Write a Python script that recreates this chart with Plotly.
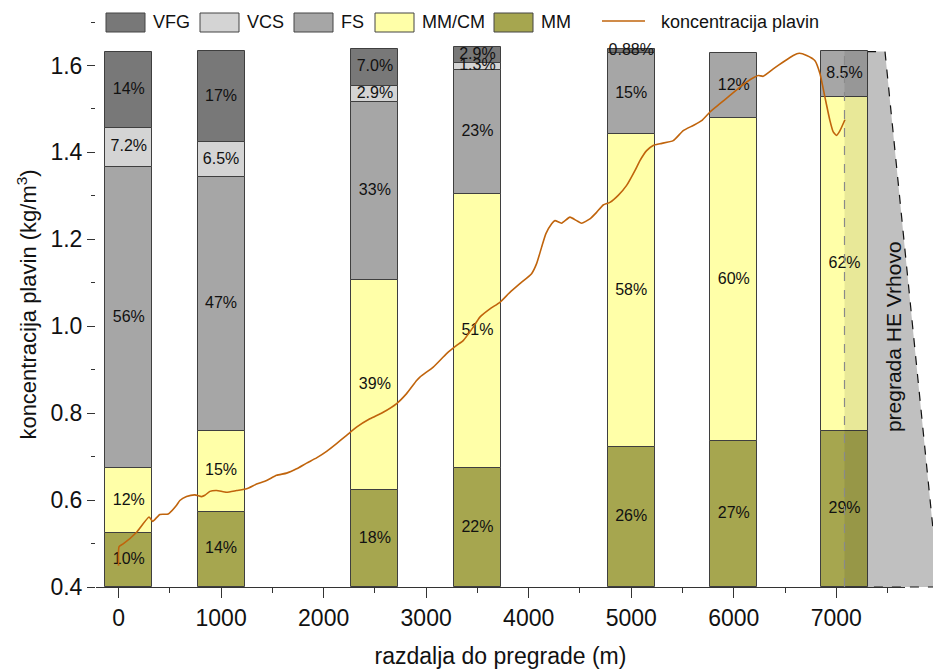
import plotly.graph_objects as go

# Sampling stations: distance to the dam (m)
stations = [100, 1000, 2500, 3500, 5000, 6000, 7080]

# Grain-size composition at each station (%), stored as printed
pct_MM = ["10", "14", "18", "22", "26", "27", "29"]
pct_MMCM = ["12", "15", "39", "51", "58", "60", "62"]
pct_FS = ["56", "47", "33", "23", "15", "12", "8.5"]
pct_VCS = ["7.2", "6.5", "2.9", "1.3", None, None, None]
pct_VFG = ["14", "17", "7.0", "2.9", "0.88", None, None]

# Suspended sediment concentration along the reservoir
dist_line = [0, 5, 45, 176, 298, 332, 403, 484, 566, 598, 663, 744, 810, 842, 891,
             956, 1053, 1151, 1249, 1346, 1444, 1541, 1639, 1736, 1834, 1931, 2029,
             2126, 2224, 2321, 2451, 2581, 2712, 2809, 2907, 2939, 3069, 3199, 3297,
             3361, 3459, 3524, 3622, 3719, 3817, 3914, 4028, 4077, 4126, 4168, 4224,
             4256, 4321, 4402, 4467, 4516, 4597, 4662, 4727, 4792, 4873, 4955, 5036,
             5085, 5150, 5214, 5280, 5410, 5507, 5605, 5687, 5768, 5865, 5963, 6060,
             6158, 6239, 6287, 6385, 6482, 6580, 6639, 6711, 6792, 6841, 6889, 6938,
             6970, 7003, 7036, 7084]
conc_line = [0.449, 0.493, 0.499, 0.526, 0.561, 0.551, 0.567, 0.568, 0.588, 0.599,
             0.608, 0.612, 0.608, 0.611, 0.620, 0.622, 0.618, 0.622, 0.626, 0.637,
             0.645, 0.657, 0.662, 0.672, 0.685, 0.697, 0.712, 0.730, 0.749, 0.768,
             0.787, 0.802, 0.822, 0.845, 0.875, 0.883, 0.906, 0.937, 0.956, 0.967,
             0.998, 1.021, 1.040, 1.055, 1.078, 1.098, 1.121, 1.144, 1.182, 1.213,
             1.236, 1.243, 1.237, 1.251, 1.243, 1.237, 1.247, 1.262, 1.279, 1.285,
             1.301, 1.324, 1.358, 1.381, 1.404, 1.416, 1.420, 1.427, 1.450, 1.462,
             1.473, 1.493, 1.512, 1.531, 1.550, 1.567, 1.577, 1.575, 1.592, 1.608,
             1.623, 1.628, 1.623, 1.611, 1.581, 1.527, 1.473, 1.447, 1.439, 1.450,
             1.475]

x_ticks = [0, 1000, 2000, 3000, 4000, 5000, 6000, 7000]
y_ticks = [0.4, 0.6, 0.8, 1.0, 1.2, 1.4, 1.6]

# Stack order bottom -> top
series = [
    ("MM", pct_MM, "#A6A64F"),
    ("MM/CM", pct_MMCM, "#FFFFA8"),
    ("FS", pct_FS, "#A6A6A6"),
    ("VCS", pct_VCS, "#D4D4D4"),
    ("VFG", pct_VFG, "#787878"),
]
LINE_COLOR = "#C0640C"
EDGE = "#3f3f3f"
FONT = "Liberation Sans, Arial, sans-serif"

BASE = 0.4            # composition bars start at the bottom of the axis
SCALE = 1.24 / 100    # axis units per percent
BAR_WIDTH = 460

X_RANGE = [-220, 7670]
Y_RANGE = [0.4, 1.7]
W, H = 933, 669
MARGIN = dict(l=96, r=28, t=22, b=82)

# Dam outline (m, kg/m3)
DAM_X = 7080
DAM_TOP = 1.632
DAM_CREST_END = 7475
DAM_TOE = 8000


def xpaper(v):
    return (v - X_RANGE[0]) / (X_RANGE[1] - X_RANGE[0])


def ypaper(v):
    return (v - Y_RANGE[0]) / (Y_RANGE[1] - Y_RANGE[0])


def px_x(p):
    return (p - MARGIN["l"]) / (W - MARGIN["l"] - MARGIN["r"])


def px_y(p):
    return (H - MARGIN["b"] - p) / (H - MARGIN["t"] - MARGIN["b"])


fig = go.Figure()

cum = [0.0] * len(stations)
lab_x, lab_y, lab_t = [], [], []
for name, vals, color in series:
    heights, bases = [], []
    for i, v in enumerate(vals):
        b = BASE + cum[i]
        bases.append(b)
        if v is None:
            heights.append(None)
            continue
        h = float(v) * SCALE
        heights.append(h)
        lab_x.append(stations[i])
        lab_y.append(b + h / 2)
        lab_t.append(v + "%")
        cum[i] += h
    fig.add_trace(go.Bar(
        x=stations, y=heights, base=bases, width=BAR_WIDTH, name=name,
        marker=dict(color=color, line=dict(color=EDGE, width=1)),
        showlegend=False, hoverinfo="skip",
    ))

fig.add_trace(go.Scatter(
    x=lab_x, y=lab_y, text=lab_t, mode="text",
    textfont=dict(family=FONT, size=16, color="#111111"),
    showlegend=False, hoverinfo="skip",
))

fig.add_trace(go.Scatter(
    x=dist_line, y=conc_line, mode="lines", name="koncentracija plavin",
    line=dict(color=LINE_COLOR, width=1.6, shape="spline", smoothing=0.5),
    showlegend=False,
))

last_top = BASE + cum[-1]
shapes = [
    # dam body
    dict(type="path", xref="paper", yref="paper", layer="below",
         path=(f"M {xpaper(DAM_X)},{ypaper(BASE)} L {xpaper(DAM_X)},{ypaper(DAM_TOP)} "
               f"L {xpaper(DAM_CREST_END)},{ypaper(DAM_TOP)} L {xpaper(DAM_TOE)},{ypaper(BASE)} Z"),
         fillcolor="#C0C0C0", line=dict(color="#111111", width=1.2, dash="dash")),
    # shading of the dam over the last bar
    dict(type="rect", xref="x", yref="y", layer="above",
         x0=DAM_X, x1=DAM_X + BAR_WIDTH / 2, y0=BASE, y1=last_top,
         fillcolor="rgba(0,0,0,0.09)", line=dict(width=0)),
    dict(type="line", xref="x", yref="y", layer="above",
         x0=DAM_X, x1=DAM_X, y0=BASE, y1=DAM_TOP,
         line=dict(color="#8a8a8a", width=1.2, dash="dash")),
]

annotations = [
    dict(text="pregrada HE Vrhovo", x=7553, y=0.975, xref="x", yref="y",
         textangle=-90, showarrow=False,
         font=dict(family=FONT, size=21, color="#111111")),
]

# Legend row drawn along the top edge
legend_items = [
    ("VFG", "#787878", 106, 145),
    ("VCS", "#D4D4D4", 200, 239),
    ("FS", "#A6A6A6", 294, 333),
    ("MM/CM", "#FFFFA8", 375, 414),
    ("MM", "#A6A64F", 494, 533),
]
sw_top, sw_bot, row_mid = 13, 32, 22.5
for name, color, x0, x1 in legend_items:
    shapes.append(dict(type="rect", xref="paper", yref="paper", layer="above",
                       x0=px_x(x0), x1=px_x(x1), y0=px_y(sw_bot), y1=px_y(sw_top),
                       fillcolor=color, line=dict(color="#444444", width=1)))
    annotations.append(dict(text=name, x=px_x(x1 + 6), y=px_y(row_mid),
                            xref="paper", yref="paper", xanchor="left", yanchor="middle",
                            showarrow=False,
                            font=dict(family=FONT, size=18, color="#111111")))
shapes.append(dict(type="line", xref="paper", yref="paper", layer="above",
                   x0=px_x(602), x1=px_x(645), y0=px_y(21), y1=px_y(21),
                   line=dict(color=LINE_COLOR, width=1.6)))
annotations.append(dict(text="koncentracija plavin", x=px_x(659), y=px_y(row_mid),
                        xref="paper", yref="paper", xanchor="left", yanchor="middle",
                        showarrow=False,
                        font=dict(family=FONT, size=18, color="#111111")))

fig.update_layout(
    width=W, height=H, margin=MARGIN,
    barmode="overlay", bargap=0,
    paper_bgcolor="white", plot_bgcolor="rgba(0,0,0,0)",
    font=dict(family=FONT, color="#111111"),
    shapes=shapes, annotations=annotations, showlegend=False,
    xaxis=dict(
        range=X_RANGE, tickmode="array", tickvals=x_ticks, automargin=False,
        ticks="outside", ticklen=10, tickcolor="#333333",
        minor=dict(dtick=500, tick0=0, ticks="outside", ticklen=5, tickcolor="#333333"),
        showline=True, linecolor="#333333", linewidth=1,
        showgrid=False, zeroline=False,
        tickfont=dict(family=FONT, size=23, color="#111111"),
        title=dict(text="razdalja do pregrade (m)", standoff=20,
                   font=dict(family=FONT, size=23, color="#111111")),
    ),
    yaxis=dict(
        range=Y_RANGE, tickmode="array", tickvals=y_ticks, tickformat=".1f",
        automargin=False,
        ticks="outside", ticklen=8, tickcolor="#333333",
        minor=dict(dtick=0.1, tick0=0.4, ticks="outside", ticklen=4, tickcolor="#333333"),
        showline=False, showgrid=False, zeroline=False,
        tickfont=dict(family=FONT, size=23, color="#111111"),
        title=dict(text="koncentracija plavin (kg/m<sup>3</sup>)", standoff=7,
                   font=dict(family=FONT, size=22, color="#111111")),
    ),
)

fig.write_html("out.html")
